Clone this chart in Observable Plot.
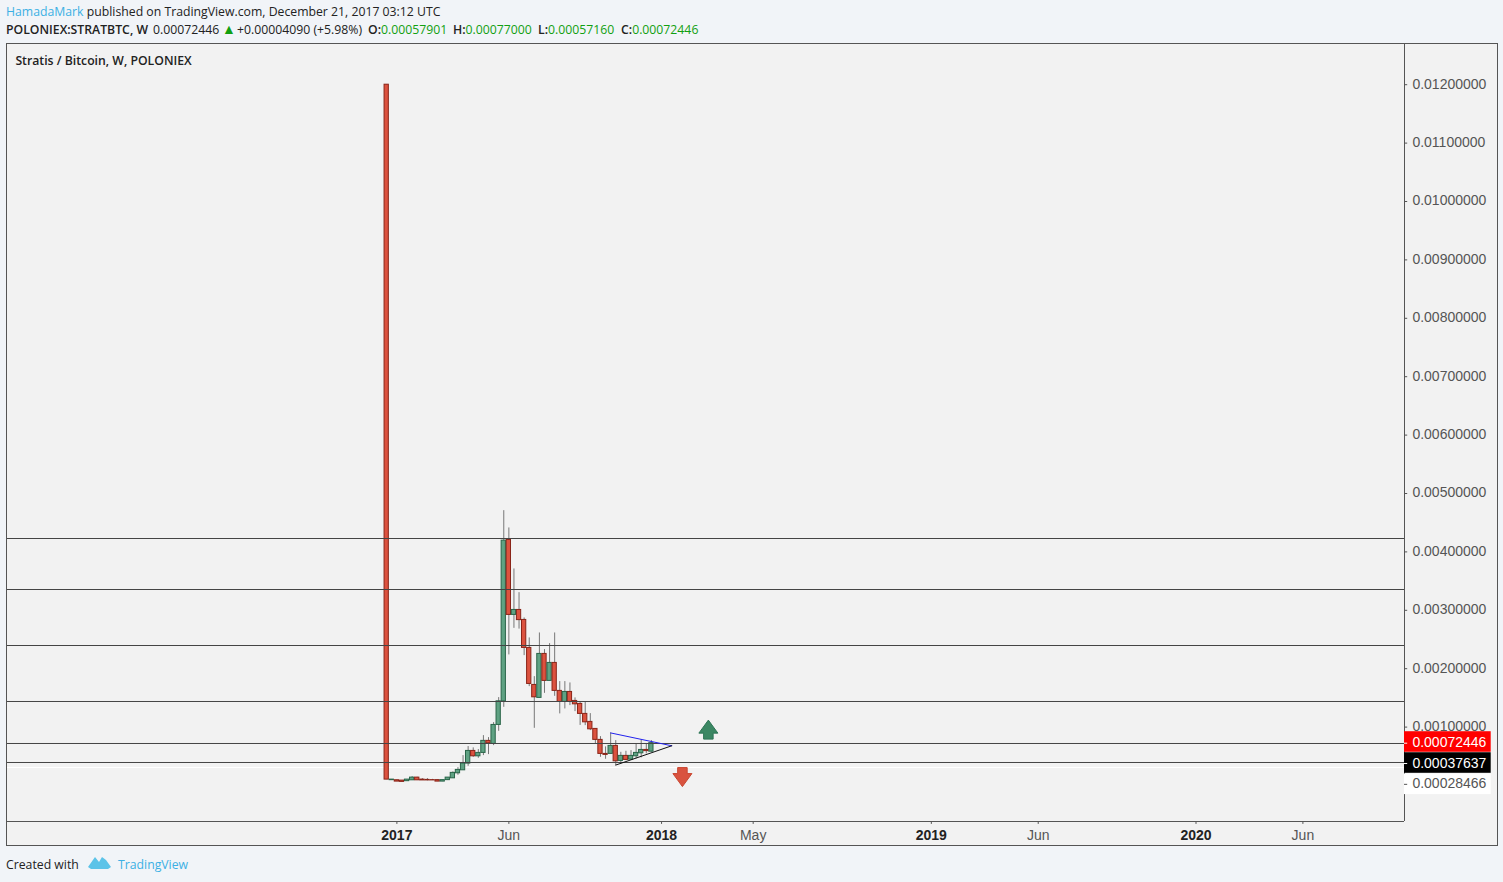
<!DOCTYPE html>
<html><head><meta charset="utf-8">
<script src="https://cdn.jsdelivr.net/npm/d3@7"></script>
<script src="https://cdn.jsdelivr.net/npm/@observablehq/plot@0.6"></script>
<style>
html,body{margin:0;padding:0;background:#f1f4f8;width:1503px;height:882px;overflow:hidden}
body{font-family:"Open Sans",sans-serif;font-size:12.25px;color:#222}
.a{position:absolute;white-space:nowrap}
.r1{top:3px}.r2{top:21px}
b{font-weight:600}.g{color:#11a011}.t{color:#3cb0e4}
#chart{position:absolute;left:6px;top:43px}
</style></head><body>
<div class="a r1" style="left:6px"><span class="t">HamadaMark</span> published on TradingView.com, December 21, 2017 03:12 UTC</div>
<div class="a r2" style="left:6px"><b>POLONIEX:STRATBTC, W</b></div>
<div class="a r2" style="left:153px">0.00072446</div>
<div class="a r2 g" style="left:222px;font-size:14px;top:19px">▲</div>
<div class="a r2" style="left:237px">+0.00004090 (+5.98%)</div>
<div class="a r2" style="left:368px"><b>O:</b><span class="g">0.00057901</span></div>
<div class="a r2" style="left:453px"><b>H:</b><span class="g">0.00077000</span></div>
<div class="a r2" style="left:538px"><b>L:</b><span class="g">0.00057160</span></div>
<div class="a r2" style="left:621px"><b>C:</b><span class="g">0.00072446</span></div>
<div id="chart"></div>
<div class="a" style="left:6px;top:856px">Created with</div>
<svg class="a" style="left:88px;top:855px" width="24" height="16" viewBox="0 0 24 16"><path d="M0 12 L7 2 L11 7 L14 2 L18 5 L23 12 L20 14 L3 14Z" fill="#5cc3e8"/></svg>
<div class="a t" style="left:118px;top:856px">TradingView</div>
<script>
const firstWeek = "2016-12-19";
const opens  = [.012,.000091,.00009,.000084,.000074,.000089,.000135,.000101,.000096,.000092,.000092,.000067,.000092,.000123,.000209,.00026,.000375,.000592,.0005,.000558,.000764,.000712,.001037,.001441,.004205,.002921,.003006,.002835,.002356,.001722,.0015,.002253,.001791,.002099,.00162,.001431,.001602,.001448,.001397,.001226,.001089,.000969,.000781,.000541,.000541,.000678,.000421,.000507,.000443,.0005,.000551,.000609,.00057901];
const highs  = [.012,.000101,.00009,.000084,.000101,.000152,.00014,.000118,.000118,.000105,.000092,.000092,.000135,.000233,.000306,.000512,.000666,.000644,.000615,.000854,.00082,.001077,.001505,.004706,.00441,.003708,.003302,.002869,.002527,.001864,.002612,.002327,.002429,.002612,.001779,.001779,.001756,.0015,.001424,.001424,.001231,.000969,.000837,.000661,.0009,.000769,.000568,.000586,.000597,.000712,.000781,.000717,.00077];
const lows   = [.0001,.00009,.000067,.000062,.000074,.000089,.000085,.000087,.00008,.000085,.000067,.000067,.000085,.000123,.000175,.00026,.000329,.000483,.000466,.000512,.000529,.000683,.000928,.001339,.002236,.002691,.002678,.002224,.001693,.000979,.0015,.001578,.001791,.001527,.001226,.001311,.001368,.001265,.001029,.001025,.00094,.000712,.000483,.000449,.000541,.000341,.00037,.000426,.000438,.000455,.000473,.000541,.0005716];
const closes = [.000101,.000101,.000067,.000062,.000101,.000135,.000089,.000087,.000087,.000087,.000067,.000092,.000135,.000216,.000267,.000375,.000592,.0005,.000558,.000764,.000722,.001037,.001441,.004193,.002921,.003006,.002832,.002356,.001739,.00151,.002253,.001791,.002099,.00162,.001431,.001602,.001431,.00139,.001226,.001082,.000962,.000781,.000541,.000524,.000678,.000414,.000507,.000438,.000507,.000558,.000609,.000589,.00072446];

const levels = [.00422945,.00335616,.00239726,.00143836,.00071918,.00039384];
const whiteLevel = [.00030822];
const yTicks = [.012,.011,.01,.009,.008,.007,.006,.005,.004,.003,.002,.001];
const majorTicks = [["2017-01-02","2017"],["2018-01-01","2018"],["2019-01-07","2019"],["2020-01-06","2020"]];
const minorTicks = [["2017-06-05","Jun"],["2018-05-07","May"],["2019-06-03","Jun"],["2020-06-01","Jun"]];
const priceLabels = [
  {pos:.00072446,box:.000745,text:"0.00072446",bg:"#ff0000",fg:"#fff"},
  {pos:.00037637,box:.000385,text:"0.00037637",bg:"#000000",fg:"#fff"},
  {pos:.00002,box:.0000205,text:"0.00028466",bg:"#ffffff",fg:"#555"}
];
const blueLine = [["2017-10-23",.00090],["2018-01-15",.00068]];
const blackLine = [["2017-10-30",.00035],["2018-01-15",.00068]];
const upArrow = [["2018-03-05",.000957]];
const downArrow = [["2018-01-29",.000144]];

const WEEK = 7*864e5, t0 = +new Date(firstWeek+"T00:00:00Z"), WPX = 5.09;
const wk = w => new Date(t0 + w*WEEK);
const D = s => new Date(s+"T00:00:00Z");
const candles = opens.map((o,i)=>({date:wk(i),o,h:highs[i],l:lows[i],c:closes[i],up:closes[i]>=o}));
const halfBar = 0.42;
const xMin = wk(-380.2/WPX), xMax = wk(1110.8/WPX);
const plotRight = wk(1017.8/WPX), labelRight = wk(1104.5/WPX), tickEnd = wk(1021/WPX), labelX = wk(1025.7/WPX);
const axisBottom = -.00061644, plotTop = 742/58400, plotBottom = -60/58400, xLabelY = -.000858, titleY = .01241;

const arrow = dir => ({draw(c,size){const r=Math.sqrt(size/Math.PI),s=dir,b=0.37*r*s;
  c.moveTo(0,-r*s);c.lineTo(r,b);c.lineTo(r*0.5,b);c.lineTo(r*0.5,r*s);
  c.lineTo(-r*0.5,r*s);c.lineTo(-r*0.5,b);c.lineTo(-r,b);c.closePath();}});

const axisFont = {fontFamily:"'Liberation Sans',Arial,sans-serif",fontSize:14};
const plot = Plot.plot({
  width:1491,height:802,marginTop:0,marginRight:0,marginBottom:0,marginLeft:0,
  style:{background:"#f2f2f2",display:"block",overflow:"visible"},
  x:{type:"utc",domain:[xMin,xMax],range:[0,1491],axis:null},
  y:{type:"linear",domain:[plotBottom,plotTop],range:[802,0],axis:null},
  marks:[
    Plot.ruleY(whiteLevel,{x1:xMin,x2:plotRight,stroke:"#ffffff",strokeWidth:1}),
    Plot.ruleX(candles,{x:"date",y1:"l",y2:"h",stroke:"#777",strokeWidth:1}),
    Plot.rect(candles,{
      x1:d=>new Date(+d.date-halfBar*WEEK),x2:d=>new Date(+d.date+halfBar*WEEK),
      y1:"o",y2:"c",
      fill:d=>d.up?"#5fa283":"#dc523f",stroke:d=>d.up?"#2a6549":"#8a2418",strokeWidth:1}),
    Plot.ruleY(levels,{x1:xMin,x2:plotRight,stroke:"#444",strokeWidth:1}),
    Plot.line(blueLine,{x:d=>D(d[0]),y:d=>d[1],stroke:"#2222ee",strokeWidth:1}),
    Plot.line(blackLine,{x:d=>D(d[0]),y:d=>d[1],stroke:"#111",strokeWidth:1}),
    Plot.dot(upArrow,{x:d=>D(d[0]),y:d=>d[1],dx:1,r:9.5,symbol:arrow(1),fill:"#3b8763",stroke:"#2d7555",strokeWidth:1}),
    Plot.dot(downArrow,{x:d=>D(d[0]),y:d=>d[1],dx:0.5,r:9.5,symbol:arrow(-1),fill:"#d9533f",stroke:"#c9452f",strokeWidth:1}),
    Plot.text(["Stratis / Bitcoin, W, POLONIEX"],{x:wk(-72.95),y:titleY,text:d=>d,textAnchor:"start",fontFamily:"'Open Sans',sans-serif",fontWeight:600,fontSize:12.25,fill:"#222"}),
    Plot.ruleX([plotRight],{y1:axisBottom,y2:plotTop,stroke:"#555",strokeWidth:1}),
    Plot.ruleY([axisBottom],{x1:xMin,x2:plotRight,stroke:"#555",strokeWidth:1}),
    Plot.ruleY(yTicks,{x1:plotRight,x2:tickEnd,stroke:"#555"}),
    Plot.text(yTicks,{x:labelX,y:d=>d,dy:-0.5,text:d=>d.toFixed(8),textAnchor:"start",fill:"#555",...axisFont}),
    Plot.rect(priceLabels,{x1:plotRight,x2:labelRight,y1:d=>d.box-.000176,y2:d=>d.box+.000176,fill:d=>d.bg}),
    Plot.ruleY(priceLabels,{y:"pos",x1:plotRight,x2:tickEnd,stroke:d=>d.bg==="#ffffff"?"#555":"#fff"}),
    Plot.text(priceLabels,{x:labelX,y:"pos",dy:-0.5,text:"text",textAnchor:"start",fill:d=>d.fg,...axisFont}),
    Plot.ruleX([...majorTicks,...minorTicks],{x:d=>D(d[0]),y1:axisBottom,y2:axisBottom-.00005,stroke:"#555"}),
    Plot.text(majorTicks,{x:d=>D(d[0]),y:xLabelY,text:d=>d[1],fontWeight:700,fill:"#222",...axisFont}),
    Plot.text(minorTicks,{x:d=>D(d[0]),y:xLabelY,text:d=>d[1],fill:"#555",...axisFont}),
    Plot.frame({stroke:"#555",strokeWidth:1})
  ]
});
document.getElementById("chart").append(plot);
</script>
</body></html>
